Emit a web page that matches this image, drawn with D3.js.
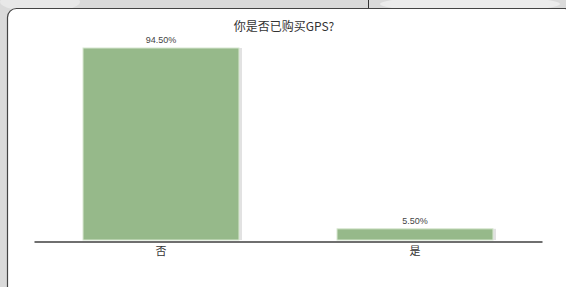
<!DOCTYPE html>
<html>
<head>
<meta charset="utf-8">
<script src="https://cdn.jsdelivr.net/npm/d3@7"></script>
<style>
  body { margin: 0; background: #d9d9d9; }
  svg { display: block; }
</style>
</head>
<body>
<script>
// chart data
const title = "你是否已购买GPS?";
const categories = ["否", "是"];
const values = [94.5, 5.5];
const valueLabels = ["94.50%", "5.50%"];

const W = 566, H = 287;
const svg = d3.select("body").append("svg").attr("width", W).attr("height", H);

// grey textured backdrop
const bg = svg.append("g");
bg.append("rect").attr("width", W).attr("height", H).attr("fill", "#dadada");
bg.append("ellipse").attr("cx", 40).attr("cy", 2).attr("rx", 40).attr("ry", 10).attr("fill", "#e8e8e8");
bg.append("ellipse").attr("cx", 470).attr("cy", 4).attr("rx", 90).attr("ry", 8).attr("fill", "#ececec");
bg.append("line").attr("x1", 368.5).attr("x2", 368.5).attr("y1", 0).attr("y2", 8)
  .attr("stroke", "#333").attr("stroke-width", 1);

// white panel
svg.append("rect")
  .attr("x", 7.5).attr("y", 8.5).attr("width", 566).attr("height", 290)
  .attr("rx", 9)
  .attr("fill", "#fff").attr("stroke", "#444").attr("stroke-width", 1.2);

const x = d3.scaleBand().domain(categories).range([34, 542])
  .paddingInner(0.386).paddingOuter(0.193);
const y = d3.scaleLinear().domain([0, d3.max(values)]).range([240, 48]);

svg.append("text")
  .attr("x", 284).attr("y", 31).attr("text-anchor", "middle")
  .attr("font-family", "'Noto Sans CJK SC', sans-serif").attr("font-size", 12)
  .attr("fill", "#333").text(title);

const bars = svg.append("g");
// soft shadow to the right of each bar
bars.selectAll("rect.shadow").data(values).join("rect").attr("class", "shadow")
  .attr("x", (d, i) => x(categories[i]) + 3)
  .attr("y", d => y(d))
  .attr("width", x.bandwidth())
  .attr("height", d => 240 - y(d))
  .attr("fill", "#e2e2e2");
bars.selectAll("rect.bar").data(values).join("rect").attr("class", "bar")
  .attr("x", (d, i) => x(categories[i]))
  .attr("y", d => y(d))
  .attr("width", x.bandwidth())
  .attr("height", d => 240 - y(d))
  .attr("fill", "#96b98a")
  .attr("stroke", "#d6e6cf").attr("stroke-width", 1);

svg.selectAll("text.val").data(values).join("text").attr("class", "val")
  .attr("x", (d, i) => x(categories[i]) + x.bandwidth() / 2)
  .attr("y", d => y(d) - 5)
  .attr("text-anchor", "middle")
  .attr("font-family", "Arial, 'Liberation Sans', sans-serif").attr("font-size", 9)
  .attr("fill", "#444")
  .text((d, i) => valueLabels[i]);

// x axis
const ax = svg.append("g").attr("transform", "translate(0,241.5)")
  .call(d3.axisBottom(x).tickSize(0).tickPadding(6));
ax.select(".domain").attr("stroke", "#6f6f6f").attr("stroke-width", 2);
ax.selectAll("text")
  .attr("font-family", "'Noto Sans CJK SC', sans-serif").attr("font-size", 11)
  .attr("fill", "#333");
</script>
</body>
</html>
